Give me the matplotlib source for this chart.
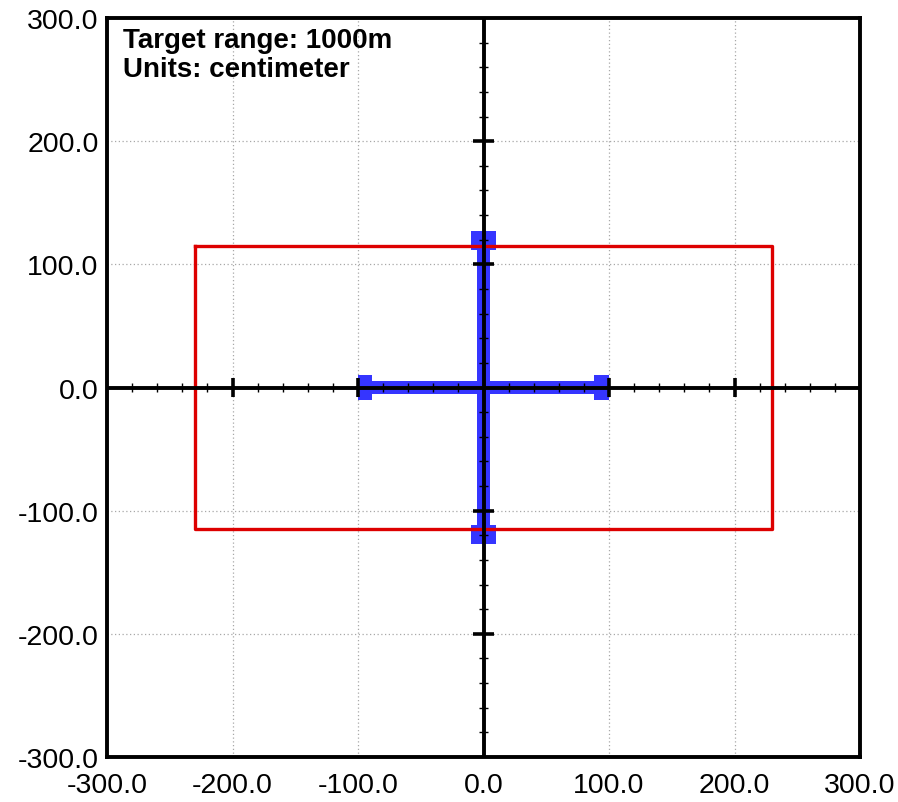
import numpy as np
from matplotlib import pyplot as plt
from matplotlib.patches import Rectangle

plt.rcParams['font.family'] = ['Liberation Sans', 'DejaVu Sans']

# axis range and grid
axis_ticks = [-300, -200, -100, 0, 100, 200, 300]
axis_labels = ['%.1f' % v for v in axis_ticks]

# red target box (cm)
box_x = [-230, 230]
box_y = [-115, 115]

# blue cross pieces: bars and end caps (cm)
cross_x0 = [-100, -100, 88, -5, -10, -10]
cross_x1 = [100, -89, 100, 5, 10, 10]
cross_y0 = [-5, -10, -10, -127, 112, -127]
cross_y1 = [5, 10, 10, 127, 127, -112]

# tick marks drawn on the centre cross
major_marks = [-200, -100, 100, 200]
minor_marks = [v for v in np.arange(-280, 300, 20) if v % 100 != 0]

info_text = "Target range: 1000m\nUnits: centimeter"

fig = plt.figure(figsize=(8.98, 8.03), dpi=100)
ax = fig.add_axes([0.1192, 0.056, 0.9577 - 0.1192, 0.9763 - 0.056])

ax.set_xlim(axis_ticks[0], axis_ticks[-1])
ax.set_ylim(axis_ticks[0], axis_ticks[-1])
ax.set_xticks(axis_ticks)
ax.set_yticks(axis_ticks)
ax.set_xticklabels(axis_labels)
ax.set_yticklabels(axis_labels)
ax.tick_params(length=0, labelsize=20.5, pad=6)
ax.tick_params(axis='x', pad=11)
ax.grid(True, linestyle=(0, (1, 2)), color='#a8a8a8', linewidth=0.9, zorder=0)
ax.set_axisbelow(True)
for s in ax.spines.values():
    s.set_linewidth(2.8)

# blue cross
for x0, x1, y0, y1 in zip(cross_x0, cross_x1, cross_y0, cross_y1):
    ax.add_patch(Rectangle((x0, y0), x1 - x0, y1 - y0, facecolor='#3535ff',
                           edgecolor='none', zorder=2))

# red target box
ax.plot([box_x[0], box_x[1], box_x[1], box_x[0], box_x[0]],
        [box_y[1], box_y[1], box_y[0], box_y[0], box_y[1]],
        color='#dd0000', linewidth=2.4, zorder=3)

# black centre cross with marks
ax.axhline(0, color='black', linewidth=2.8, zorder=4)
ax.axvline(0, color='black', linewidth=2.8, zorder=4)
ax.vlines(major_marks, -8, 8, color='black', linewidth=2.6, zorder=4)
ax.hlines(major_marks, -8, 8, color='black', linewidth=2.6, zorder=4)
ax.vlines(minor_marks, -3.5, 3.5, color='black', linewidth=1.0, zorder=4)
ax.hlines(minor_marks, -3.5, 3.5, color='black', linewidth=1.0, zorder=4)

ax.text(0.021, 0.988, info_text, transform=ax.transAxes, ha='left', va='top',
        fontsize=20, fontweight='bold', linespacing=1.15)

plt.savefig('out.png', dpi=100)
